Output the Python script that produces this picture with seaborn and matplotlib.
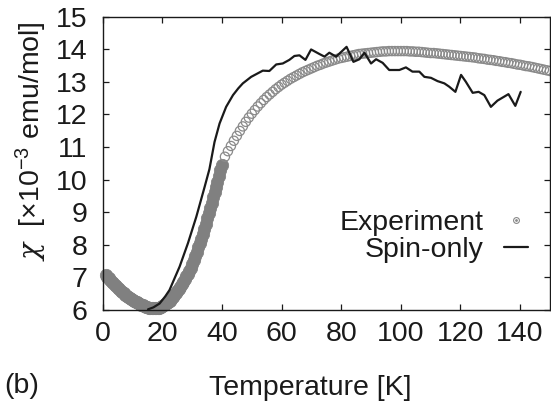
import matplotlib
matplotlib.use("Agg")
import matplotlib.pyplot as plt
from matplotlib.lines import Line2D
from matplotlib.legend_handler import HandlerTuple
import seaborn as sns
import pandas as pd

# ---------------- data ----------------
# Experiment, dense low-temperature sweep (K, 1e-3 emu/mol)
exp_low_T = [1.0, 1.5, 2.0, 2.5, 3.0, 3.5, 4.0, 4.5, 5.0, 5.5, 6.0, 6.5, 7.0, 7.5,
             8.0, 8.5, 9.0, 9.5, 10.0, 10.5, 11.0, 11.5, 12.0, 12.5, 13.0, 13.5,
             14.0, 14.5, 15.0, 15.5, 16.0, 16.5, 17.0, 17.5, 18.0, 18.5, 19.0,
             19.5, 20.0, 20.5, 21.0, 21.5, 22.0, 22.5, 23.0, 23.5, 24.0, 24.5,
             25.0, 25.5, 26.0, 26.5, 27.0, 27.5, 28.0, 28.5, 29.0, 29.5, 30.0,
             30.5, 31.0, 31.5, 32.0, 32.5, 33.0, 33.5, 34.0, 34.5, 35.0, 35.5,
             36.0, 36.5, 37.0, 37.5, 38.0, 38.5, 39.0, 39.5, 40.0]
exp_low_chi = [7.07, 7.02, 6.97, 6.92, 6.87, 6.82, 6.77, 6.73, 6.68, 6.64, 6.59,
               6.55, 6.51, 6.47, 6.43, 6.40, 6.37, 6.34, 6.31, 6.28, 6.26, 6.23,
               6.21, 6.18, 6.16, 6.14, 6.12, 6.10, 6.08, 6.07, 6.06, 6.05, 6.05,
               6.05, 6.05, 6.06, 6.07, 6.09, 6.11, 6.14, 6.17, 6.20, 6.24, 6.28,
               6.33, 6.39, 6.45, 6.51, 6.58, 6.65, 6.72, 6.79, 6.87, 6.95, 7.03,
               7.11, 7.20, 7.30, 7.40, 7.52, 7.65, 7.78, 7.92, 8.05, 8.19, 8.34,
               8.49, 8.65, 8.81, 8.97, 9.13, 9.29, 9.45, 9.61, 9.77, 9.94, 10.11,
               10.28, 10.45]

# Experiment, high-temperature points (1 K steps, 41..150 K)
exp_high_T = list(range(41, 151))
exp_high_chi = [10.70, 10.87, 11.03, 11.19, 11.34, 11.49, 11.63, 11.77, 11.90, 12.02,
                12.13, 12.24, 12.34, 12.44, 12.53, 12.61, 12.69, 12.77, 12.84, 12.91,
                12.97, 13.03, 13.09, 13.14, 13.19, 13.24, 13.29, 13.33, 13.37, 13.41,
                13.45, 13.49, 13.52, 13.56, 13.59, 13.62, 13.65, 13.68, 13.71, 13.73,
                13.75, 13.77, 13.79, 13.81, 13.83, 13.85, 13.86, 13.87, 13.88, 13.89,
                13.90, 13.91, 13.92, 13.93, 13.93, 13.94, 13.94, 13.94, 13.94, 13.94,
                13.94, 13.94, 13.93, 13.93, 13.92, 13.92, 13.91, 13.90, 13.89, 13.88,
                13.88, 13.87, 13.86, 13.85, 13.84, 13.83, 13.82, 13.81, 13.80, 13.79,
                13.78, 13.77, 13.76, 13.75, 13.74, 13.72, 13.71, 13.70, 13.68, 13.67,
                13.66, 13.64, 13.63, 13.61, 13.60, 13.58, 13.57, 13.55, 13.53, 13.52,
                13.50, 13.48, 13.47, 13.45, 13.43, 13.41, 13.39, 13.37, 13.35, 13.33]

# Spin-only calculation
spin_T = [15.2, 17.0, 19.1, 21.0, 22.4, 24.0, 25.8, 28.6, 31.4, 34.2, 35.8, 37.5,
          39.2, 41.4, 43.7, 45.5, 47.0, 49.8, 53.7, 55.9, 58.2, 60.4, 62.6, 64.3,
          66.0, 68.0, 69.9, 72.7, 74.4, 76.0, 78.3, 81.8, 84.1, 86.1, 87.8, 90.0,
          91.7, 93.9, 96.1, 99.5, 101.7, 103.9, 106.2, 107.9, 110.1, 112.3, 114.6,
          116.2, 118.3, 120.2, 121.8, 124.1, 126.1, 128.0, 130.2, 132.4, 136.1,
          138.4, 140.2]
spin_chi = [6.02, 6.08, 6.20, 6.42, 6.61, 6.95, 7.33, 8.05, 8.86, 9.78, 10.32, 11.15,
            11.72, 12.23, 12.59, 12.80, 12.95, 13.15, 13.34, 13.33, 13.53, 13.56,
            13.67, 13.79, 13.81, 13.67, 13.99, 13.85, 13.77, 13.89, 13.77, 14.07,
            13.61, 13.69, 13.89, 13.56, 13.69, 13.58, 13.36, 13.36, 13.44, 13.31,
            13.31, 13.15, 13.12, 13.02, 12.95, 12.85, 12.69, 13.21, 13.00, 12.66,
            12.69, 12.59, 12.23, 12.42, 12.62, 12.26, 12.69]

x_ticks = [0, 20, 40, 60, 80, 100, 120, 140]
y_ticks = [6, 7, 8, 9, 10, 11, 12, 13, 14, 15]

# ---------------- style ----------------
sns.set_style("ticks")
FS = 20.5
plt.rcParams["font.family"] = ["Liberation Sans", "DejaVu Sans"]
plt.rcParams["mathtext.fontset"] = "custom"
plt.rcParams["mathtext.rm"] = "Liberation Sans"
plt.rcParams["mathtext.it"] = "DejaVu Serif:italic"
plt.rcParams["mathtext.default"] = "regular"

GRAY = "#808080"
CIRC = "#8a8a8a"
BLACK = "#1a1a1a"

fig = plt.figure(figsize=(5.51, 4.03), dpi=100)
ax = fig.add_axes([0.1864, 0.2308, 0.998 - 0.1864, 0.959 - 0.2308])

df_low = pd.DataFrame({"T": exp_low_T, "chi": exp_low_chi})
df_high = pd.DataFrame({"T": exp_high_T, "chi": exp_high_chi})
df_spin = pd.DataFrame({"T": spin_T, "chi": spin_chi})

sns.scatterplot(data=df_low, x="T", y="chi", ax=ax, marker="o", s=80,
                color=GRAY, edgecolor=GRAY, linewidth=0.5, clip_on=False,
                zorder=2, legend=False)
sns.scatterplot(data=df_high, x="T", y="chi", ax=ax, marker="o", s=44,
                facecolor="none", edgecolor=CIRC, linewidth=0.9, clip_on=False,
                zorder=2, legend=False)
sns.lineplot(data=df_spin, x="T", y="chi", ax=ax, sort=False, estimator=None,
             color=BLACK, linewidth=1.6, zorder=3, legend=False)

ax.set_xlim(0, 150)
ax.set_ylim(6, 15)
ax.set_xticks(x_ticks)
ax.set_yticks(y_ticks)
ax.tick_params(axis="both", which="both", direction="in", length=4.5, width=0.9,
               top=True, right=True, labelsize=FS, colors=BLACK)
ax.tick_params(axis="x", pad=8)
ax.tick_params(axis="y", pad=11)
for sp in ax.spines.values():
    sp.set_visible(True)
    sp.set_linewidth(1.0)
    sp.set_color(BLACK)

ax.set_xlabel("Temperature [K]", fontsize=FS, color=BLACK)
ax.xaxis.set_label_coords(0.463, -0.222)
ax.set_ylabel(r"$\mathit{\chi}$  [×10$^{-3}$ emu/mol]", fontsize=FS, color=BLACK)
ax.yaxis.set_label_coords(-0.119, 0.574)

fig.text(4 / 551, 1 - 386 / 403, "(b)", fontsize=FS, ha="left", va="center",
         color=BLACK)

# legend (gnuplot-like key: text right-aligned, sample on the right)
h_circ = Line2D([], [], linestyle="none", marker="o", markersize=4.2,
                markerfacecolor="none", markeredgecolor=CIRC, markeredgewidth=0.8)
h_dot = Line2D([], [], linestyle="none", marker="o", markersize=1.0,
               markerfacecolor=CIRC, markeredgecolor=CIRC)
h_line = Line2D([], [], color=BLACK, linewidth=1.6)
leg = ax.legend([(h_circ, h_dot), h_line], ["Experiment", "Spin-only"],
                handler_map={tuple: HandlerTuple(ndivide=1)},
                loc="center right", bbox_to_anchor=(0.951, 0.25),
                frameon=False, markerfirst=False, fontsize=FS,
                handlelength=0.85, handletextpad=0.7, labelspacing=0.02,
                borderpad=0, borderaxespad=0)
for t in leg.get_texts():
    t.set_color(BLACK)

fig.savefig("out.png", dpi=100)
